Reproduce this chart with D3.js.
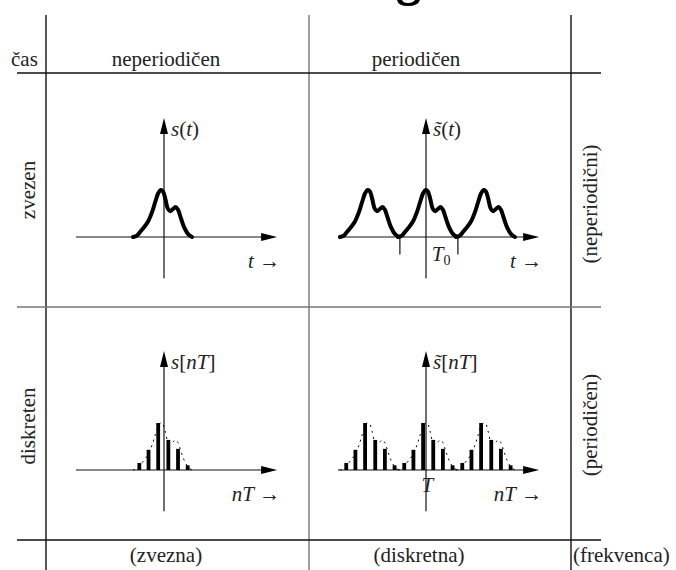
<!DOCTYPE html>
<html>
<head>
<meta charset="utf-8">
<script src="https://cdn.jsdelivr.net/npm/d3@7"></script>
<style>
  body { margin: 0; background: #fff; }
  text { font-family: "Liberation Serif", "Times New Roman", serif; fill: #222; }
</style>
</head>
<body>
<svg id="chart"></svg>
<script>
// one pulse s(t), t in units of the sample period T
const pulseT = [-3.2, -2.8, -2.5, -2.1, -1.65, -1.2, -0.9, -0.6, -0.35, -0.1, 0.15, 0.4, 0.65, 0.95, 1.2, 1.45, 1.75, 2.1, 2.5, 2.9];
const pulseS = [0, 0.03, 0.1, 0.2, 0.33, 0.55, 0.75, 0.93, 1.0, 0.97, 0.8, 0.6, 0.55, 0.6, 0.64, 0.58, 0.4, 0.2, 0.06, 0];
// samples s[nT]
const sampleT = [-2.55, -1.6, -0.6, 0.45, 1.45, 2.45];
const sampleS = [0.15, 0.43, 1.0, 0.64, 0.45, 0.1];
// periodic copies, period T0 = 6T
const periodK = [-1, 0, 1];
const periodT0 = 6;
const periodTicks = [-2.7, 3.3];

const colLabels = ["neperiodičen", "periodičen"];
const rowLabels = ["zvezen", "diskreten"];
const bottomLabels = ["(zvezna)", "(diskretna)"];
const rightLabels = ["(neperiodični)", "(periodičen)"];

const w = 676, h = 570;
const fs = "21px";
const svg = d3.select("#chart").attr("width", w).attr("height", h);

// table grid
const grid = [
  {x1: 46, y1: 15, x2: 46, y2: 570, c: "#111"},
  {x1: 309, y1: 15, x2: 309, y2: 570, c: "#777"},
  {x1: 571, y1: 15, x2: 571, y2: 570, c: "#111"},
  {x1: 17, y1: 73, x2: 601, y2: 73, c: "#111"},
  {x1: 17, y1: 307, x2: 601, y2: 307, c: "#777"},
  {x1: 17, y1: 540, x2: 601, y2: 540, c: "#111"}
];
svg.selectAll("line.grid").data(grid).enter().append("line")
  .attr("class", "grid")
  .attr("x1", d => d.x1).attr("y1", d => d.y1)
  .attr("x2", d => d.x2).attr("y2", d => d.y2)
  .attr("stroke", d => d.c).attr("stroke-width", 1.4);

// cut-off remnant of a title glyph at the very top
svg.append("path").attr("d", "M397,0 Q398,6 408,6 Q418,6 420,0 L415,0 Q413,3 408,3 Q403,3 402,0 Z").attr("fill", "#000");

svg.append("text").attr("x", 11).attr("y", 66).style("font-size", fs).text("čas");

const colX = [166, 416];
svg.selectAll("text.col").data(colLabels).enter().append("text")
  .attr("x", (d, i) => colX[i]).attr("y", 66)
  .attr("text-anchor", "middle").style("font-size", fs).text(d => d);

svg.selectAll("text.bot").data(bottomLabels).enter().append("text")
  .attr("x", (d, i) => colX[i] + (i ? 3 : 0)).attr("y", 562)
  .attr("text-anchor", "middle").style("font-size", fs).text(d => d);
svg.append("text").attr("x", 573).attr("y", 562).style("font-size", fs).text("(frekvenca)");

const rowY = [190, 426];
svg.selectAll("text.row").data(rowLabels).enter().append("text")
  .attr("transform", (d, i) => `translate(35,${rowY[i]}) rotate(-90)`)
  .attr("text-anchor", "middle").style("font-size", fs).text(d => d);
const rightY = [204, 425];
svg.selectAll("text.right").data(rightLabels).enter().append("text")
  .attr("transform", (d, i) => `translate(597,${rightY[i]}) rotate(-90)`)
  .attr("text-anchor", "middle").style("font-size", fs).text(d => d);

// panels
const panels = [
  {ox: 164, base: 237, periodic: false, discrete: false, tilde: false, arg: "(t)", xl: "t"},
  {ox: 426, base: 237, periodic: true, discrete: false, tilde: true, arg: "(t)", xl: "t"},
  {ox: 164, base: 470, periodic: false, discrete: true, tilde: false, arg: "[nT]", xl: "nT"},
  {ox: 426, base: 470, periodic: true, discrete: true, tilde: true, arg: "[nT]", xl: "nT"}
];
const unit = 9.67, amp = 47;

panels.forEach(p => {
  const x = d3.scaleLinear().domain([-9.1, 11.7]).range([p.ox - 9.1 * unit, p.ox + 11.7 * unit]);
  const y = d3.scaleLinear().domain([0, 1]).range([p.base, p.base - amp]);
  const g = svg.append("g");
  const shift = p.periodic ? 0.3 : 0;
  const ks = p.periodic ? periodK : [0];

  // axes
  g.append("line").attr("x1", x(-9.1)).attr("x2", x(10.3)).attr("y1", y(0)).attr("y2", y(0))
    .attr("stroke", "#111").attr("stroke-width", 1.2);
  g.append("line").attr("x1", x(0)).attr("x2", x(0)).attr("y1", y(-0.88)).attr("y2", y(2.3))
    .attr("stroke", "#111").attr("stroke-width", 1.2);
  const xt = x(11.7), yt = y(2.53);
  g.append("path").attr("d", `M${xt},${y(0)} L${xt - 16},${y(0) - 4} L${xt - 16},${y(0) + 4} Z`).attr("fill", "#000");
  g.append("path").attr("d", `M${x(0)},${yt} L${x(0) - 4},${yt + 16} L${x(0) + 4},${yt + 16} Z`).attr("fill", "#000");

  const line = d3.line().x(d => x(d[0])).y(d => y(d[1])).curve(d3.curveCatmullRom);
  ks.forEach(k => {
    const pts = pulseT.map((t, i) => [t + k * periodT0 + shift, pulseS[i]]);
    if (!p.discrete) {
      g.append("path").attr("d", line(pts)).attr("fill", "none").attr("stroke", "#000")
        .attr("stroke-width", 4).attr("stroke-linejoin", "round").attr("stroke-linecap", "round");
    } else {
      g.append("path").attr("d", line(pts)).attr("fill", "none").attr("stroke", "#000")
        .attr("stroke-width", 1).attr("stroke-dasharray", "2,4");
      g.selectAll(null).data(sampleT.map((t, i) => [t + k * periodT0 + shift, sampleS[i]]))
        .enter().append("line")
        .attr("x1", d => x(d[0])).attr("x2", d => x(d[0]))
        .attr("y1", y(0)).attr("y2", d => y(d[1]))
        .attr("stroke", "#000").attr("stroke-width", 3.8);
    }
  });

  if (p.periodic && !p.discrete) {
    g.selectAll(null).data(periodTicks).enter().append("line")
      .attr("x1", d => x(d)).attr("x2", d => x(d))
      .attr("y1", y(0)).attr("y2", y(-0.37))
      .attr("stroke", "#111").attr("stroke-width", 1.2);
    const t0 = g.append("text").attr("x", x(0.6)).attr("y", y(-0.5)).style("font-size", fs);
    t0.append("tspan").style("font-style", "italic").text("T");
    t0.append("tspan").attr("dy", 4).style("font-size", "14px").text("0");
  }
  if (p.periodic && p.discrete) {
    g.append("text").attr("x", x(0.15)).attr("y", y(-0.47)).attr("text-anchor", "middle")
      .style("font-size", fs).style("font-style", "italic").text("T");
  }

  // y label
  const yl = g.append("text").attr("x", x(0) + 7).attr("y", p.base - 101).style("font-size", fs);
  yl.append("tspan").style("font-style", "italic").text(p.tilde ? "s̃" : "s");
  if (p.arg === "(t)") {
    yl.append("tspan").text("(");
    yl.append("tspan").style("font-style", "italic").text("t");
    yl.append("tspan").text(")");
  } else {
    yl.append("tspan").text("[");
    yl.append("tspan").style("font-style", "italic").text("nT");
    yl.append("tspan").text("]");
  }
  // x label
  const xl = g.append("text").attr("x", x(11.7) + 3).attr("y", p.base + 31)
    .attr("text-anchor", "end").style("font-size", fs);
  xl.append("tspan").style("font-style", "italic").text(p.xl);
  xl.append("tspan").text(" →");
});
</script>
</body>
</html>
